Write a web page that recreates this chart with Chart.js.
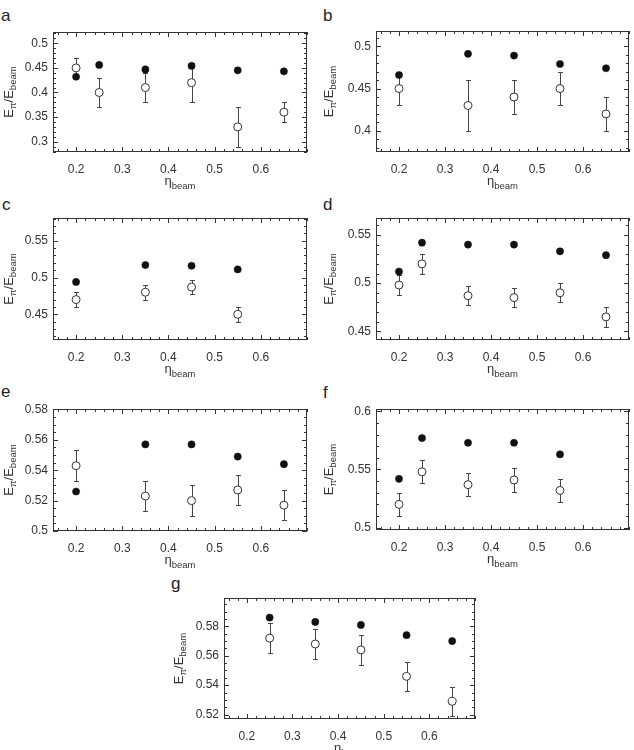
<!DOCTYPE html>
<html><head><meta charset="utf-8">
<script src="https://cdn.jsdelivr.net/npm/chart.js@4/dist/chart.umd.min.js"></script>
<style>
html,body{margin:0;padding:0;background:#fff;}
#wrap{position:relative;width:634px;height:750px;overflow:hidden;font-family:"Liberation Sans",Arial,sans-serif;}
canvas{position:absolute;}
.lbl{position:absolute;font-size:17px;color:#222;line-height:1;}
</style></head><body>
<div id="wrap">
  <div class="lbl" style="left:1px;top:7px">a</div>
  <div class="lbl" style="left:323px;top:7px">b</div>
  <div class="lbl" style="left:2px;top:196px">c</div>
  <div class="lbl" style="left:323px;top:196px">d</div>
  <div class="lbl" style="left:1px;top:383px">e</div>
  <div class="lbl" style="left:323px;top:384px">f</div>
  <div class="lbl" style="left:171px;top:575px">g</div>
  <canvas id="cA" width="317" height="195" style="left:0;top:0"></canvas>
  <canvas id="cB" width="317" height="195" style="left:317px;top:0"></canvas>
  <canvas id="cC" width="317" height="190" style="left:0;top:195px"></canvas>
  <canvas id="cD" width="317" height="190" style="left:317px;top:195px"></canvas>
  <canvas id="cE" width="317" height="190" style="left:0;top:385px"></canvas>
  <canvas id="cF" width="317" height="190" style="left:317px;top:385px"></canvas>
  <canvas id="cG" width="320" height="175" style="left:160px;top:575px"></canvas>
</div>
<script>
// values: eta_beam, filled dots, open dots, open-dot error
const xTicks = [0.2, 0.3, 0.4, 0.5, 0.6];

const etaA = [0.2, 0.25, 0.35, 0.45, 0.55, 0.65];
const fullA = [0.432, 0.456, 0.447, 0.454, 0.445, 0.443];
const openA = [0.45, 0.40, 0.41, 0.42, 0.33, 0.36];
const errA = [0.02, 0.03, 0.03, 0.04, 0.04, 0.02];
const yTicksA = [0.3, 0.35, 0.4, 0.45, 0.5];

const etaB = [0.2, 0.35, 0.45, 0.55, 0.65];
const fullB = [0.466, 0.491, 0.489, 0.479, 0.474];
const openB = [0.45, 0.43, 0.44, 0.45, 0.42];
const errB = [0.02, 0.03, 0.02, 0.02, 0.02];
const yTicksB = [0.4, 0.45, 0.5];

const etaC = [0.2, 0.35, 0.45, 0.55];
const fullC = [0.494, 0.517, 0.516, 0.511];
const openC = [0.47, 0.48, 0.487, 0.45];
const errC = [0.01, 0.01, 0.01, 0.01];
const yTicksC = [0.45, 0.5, 0.55];

const etaD = [0.2, 0.25, 0.35, 0.45, 0.55, 0.65];
const fullD = [0.512, 0.542, 0.540, 0.540, 0.533, 0.529];
const openD = [0.498, 0.52, 0.487, 0.485, 0.49, 0.465];
const errD = [0.01, 0.01, 0.01, 0.01, 0.01, 0.01];
const yTicksD = [0.45, 0.5, 0.55];

const etaE = [0.2, 0.35, 0.45, 0.55, 0.65];
const fullE = [0.526, 0.557, 0.557, 0.549, 0.544];
const openE = [0.543, 0.523, 0.52, 0.527, 0.517];
const errE = [0.01, 0.01, 0.01, 0.01, 0.01];
const yTicksE = [0.5, 0.52, 0.54, 0.56, 0.58];

const etaF = [0.2, 0.25, 0.35, 0.45, 0.55];
const fullF = [0.542, 0.577, 0.573, 0.573, 0.563];
const openF = [0.52, 0.548, 0.537, 0.541, 0.532];
const errF = [0.01, 0.01, 0.01, 0.01, 0.01];
const yTicksF = [0.5, 0.55, 0.6];

const etaG = [0.25, 0.35, 0.45, 0.55, 0.65];
const fullG = [0.586, 0.583, 0.581, 0.574, 0.570];
const openG = [0.572, 0.568, 0.564, 0.546, 0.529];
const errG = [0.01, 0.01, 0.01, 0.01, 0.01];
const yTicksG = [0.52, 0.54, 0.56, 0.58];

const INK = '#333';
const FONT = '"Liberation Sans", Arial, sans-serif';

// panel geometry: yw = y-axis width, xh = x-axis band, pt/pr = padding, ytx = y title baseline
const panels = [
  {id:'cA', eta:etaA, full:fullA, open:openA, err:errA, yt:yTicksA, ymin:0.279, ymax:0.523, ystep:0.01, yw:53, xh:43, pt:32, pr:10, ytx:13},
  {id:'cB', eta:etaB, full:fullB, open:openB, err:errB, yt:yTicksB, ymin:0.375, ymax:0.518, ystep:0.01, yw:59, xh:43, pt:31, pr:4, ytx:16},
  {id:'cC', eta:etaC, full:fullC, open:openC, err:errC, yt:yTicksC, ymin:0.415, ymax:0.581, ystep:0.01, yw:53, xh:45, pt:23, pr:10, ytx:13},
  {id:'cD', eta:etaD, full:fullD, open:openD, err:errD, yt:yTicksD, ymin:0.441, ymax:0.5676, ystep:0.01, yw:59, xh:45, pt:23, pr:4, ytx:16},
  {id:'cE', eta:etaE, full:fullE, open:openE, err:errE, yt:yTicksE, ymin:0.5, ymax:0.5803, ystep:0.005, yw:53, xh:44, pt:24, pr:10, ytx:13},
  {id:'cF', eta:etaF, full:fullF, open:openF, err:errF, yt:yTicksF, ymin:0.498, ymax:0.602, ystep:0.01, yw:59, xh:45, pt:24, pr:4, ytx:16},
  {id:'cG', eta:etaG, full:fullG, open:openG, err:errG, yt:yTicksG, ymin:0.517, ymax:0.5993, ystep:0.005, yw:64, xh:31, pt:23, pr:2, ytx:23}
];

// text with subscripts: parts = [text, size, dy]
function subText(ctx, parts, x, y) {
  let w = 0;
  parts.forEach(p => { ctx.font = p[1] + 'px ' + FONT; w += ctx.measureText(p[0]).width; });
  let cx = x - w / 2;
  parts.forEach(p => {
    ctx.font = p[1] + 'px ' + FONT;
    ctx.fillText(p[0], cx, y + p[2]);
    cx += ctx.measureText(p[0]).width;
  });
}

function makeFrame(p) {
  return {
    id: 'frame',
    beforeDatasetsDraw(chart) {
      const ctx = chart.ctx, a = chart.chartArea, x = chart.scales.x, y = chart.scales.y;
      ctx.save();
      ctx.strokeStyle = INK;
      ctx.lineWidth = 1;
      ctx.strokeRect(Math.round(a.left) + 0.5, Math.round(a.top) + 0.5,
        Math.round(a.right - a.left) - 1, Math.round(a.bottom - a.top) - 1);
      ctx.beginPath();
      // x minor / major ticks, inside, top and bottom
      for (let k = Math.ceil(x.min / 0.02 - 1e-6); k * 0.02 <= x.max + 1e-6; k++) {
        const v = k * 0.02;
        const major = xTicks.some(t => Math.abs(t - v) < 1e-6);
        const len = major ? 5 : 3;
        const px = Math.round(x.getPixelForValue(v)) + 0.5;
        ctx.moveTo(px, a.bottom); ctx.lineTo(px, a.bottom - len);
        ctx.moveTo(px, a.top); ctx.lineTo(px, a.top + len);
      }
      // y ticks, inside, left and right
      for (let k = Math.ceil(y.min / p.ystep - 1e-6); k * p.ystep <= y.max + 1e-6; k++) {
        const v = k * p.ystep;
        const major = p.yt.some(t => Math.abs(t - v) < 1e-6);
        const len = major ? 5 : 3;
        const py = Math.round(y.getPixelForValue(v)) + 0.5;
        ctx.moveTo(a.left, py); ctx.lineTo(a.left + len, py);
        ctx.moveTo(a.right, py); ctx.lineTo(a.right - len, py);
      }
      ctx.stroke();
      // error bars on open dots
      ctx.strokeStyle = '#444';
      ctx.beginPath();
      p.eta.forEach((e, i) => {
        const px = Math.round(x.getPixelForValue(e)) + 0.5;
        const yt = Math.round(y.getPixelForValue(p.open[i] + p.err[i])) + 0.5;
        const yb = Math.round(y.getPixelForValue(p.open[i] - p.err[i])) + 0.5;
        ctx.moveTo(px, yt); ctx.lineTo(px, yb);
        ctx.moveTo(px - 2.5, yt); ctx.lineTo(px + 2.5, yt);
        ctx.moveTo(px - 2.5, yb); ctx.lineTo(px + 2.5, yb);
      });
      ctx.stroke();
      ctx.restore();
    },
    afterDraw(chart) {
      const ctx = chart.ctx, a = chart.chartArea;
      ctx.save();
      ctx.fillStyle = INK;
      ctx.textBaseline = 'alphabetic';
      // x title
      subText(ctx, [['\u03b7', 13, 0], ['beam', 9.5, 4]], (a.left + a.right) / 2, a.bottom + 33);
      // y title
      ctx.translate(p.ytx, (a.top + a.bottom) / 2);
      ctx.rotate(-Math.PI / 2);
      subText(ctx, [['E', 13, 0], ['\u03c0', 9.5, 3], ['/E', 13, 0], ['beam', 9.5, 3]], 0, 0);
      ctx.restore();
    }
  };
}

const fmtTick = v => String(+Number(v).toFixed(3));

panels.forEach(p => {
  new Chart(document.getElementById(p.id), {
    type: 'scatter',
    data: {
      datasets: [
        {
          data: p.eta.map((e, i) => ({x: e, y: p.open[i]})),
          pointRadius: 4, pointBackgroundColor: '#fff', pointBorderColor: INK, pointBorderWidth: 1
        },
        {
          data: p.eta.map((e, i) => ({x: e, y: p.full[i]})),
          pointRadius: 3.6, pointBackgroundColor: '#111', pointBorderColor: '#111', pointBorderWidth: 0.5
        }
      ]
    },
    options: {
      responsive: false,
      animation: false,
      events: [],
      layout: {padding: {top: p.pt, right: p.pr, left: 0, bottom: 0}},
      plugins: {legend: {display: false}, tooltip: {enabled: false}},
      scales: {
        x: {
          type: 'linear', min: 0.15, max: 0.7, bounds: 'data',
          grid: {display: false, drawTicks: false}, border: {display: false},
          afterBuildTicks: s => { s.ticks = xTicks.map(v => ({value: v})); },
          afterFit: s => { s.height = p.xh; },
          ticks: {padding: 10, color: INK, font: {size: 12, family: FONT}, maxRotation: 0, callback: fmtTick}
        },
        y: {
          type: 'linear', min: p.ymin, max: p.ymax, bounds: 'data',
          grid: {display: false, drawTicks: false}, border: {display: false},
          afterBuildTicks: s => { s.ticks = p.yt.map(v => ({value: v})); },
          afterFit: s => { s.width = p.yw; },
          ticks: {padding: 5, color: INK, font: {size: 12, family: FONT}, callback: fmtTick}
        }
      }
    },
    plugins: [makeFrame(p)]
  });
});
</script>
</body></html>
